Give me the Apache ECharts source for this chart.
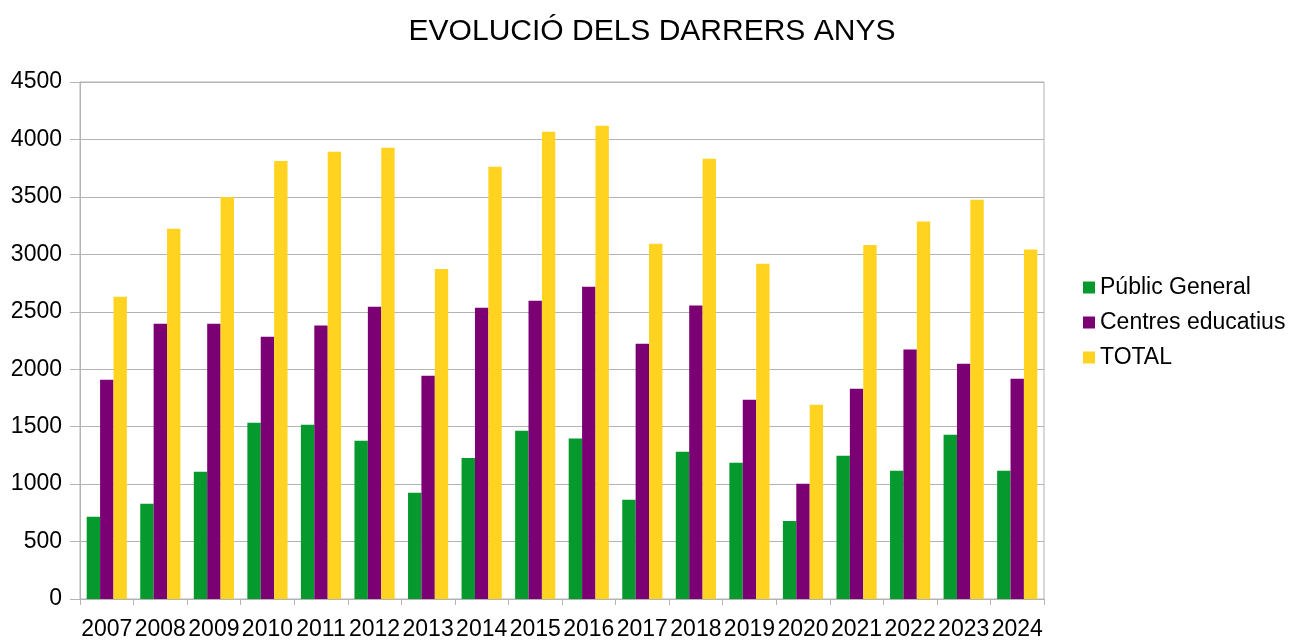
<!DOCTYPE html>
<html>
<head>
<meta charset="utf-8">
<script src="https://cdn.jsdelivr.net/npm/echarts@6/dist/echarts.min.js"></script>
<style>
  html, body { margin: 0; padding: 0; background: #fff; }
  #chart { width: 1304px; height: 644px; }
</style>
</head>
<body>
<div id="chart"></div>
<script>
const years = ['2007', '2008', '2009', '2010', '2011', '2012', '2013', '2014', '2015',
  '2016', '2017', '2018', '2019', '2020', '2021', '2022', '2023', '2024']
const publicGeneral = [715, 829, 1108, 1535, 1516, 1377, 924, 1228, 1465,
  1396, 864, 1282, 1187, 680, 1247, 1117, 1430, 1117]
const centresEducatius = [1908, 2396, 2396, 2282, 2380, 2544, 1943, 2535, 2595,
  2718, 2222, 2554, 1734, 1003, 1829, 2171, 2047, 1918]
const total = [2630, 3222, 3500, 3813, 3892, 3927, 2873, 3763, 4066,
  4120, 3092, 3832, 2918, 1690, 3082, 3285, 3475, 3041]

const font = 'Liberation Sans, Arial, sans-serif'
const gridColor = '#b3b3b3'

const chart = echarts.init(document.getElementById('chart'))
chart.setOption({
  animation: false,
  title: {
    text: 'EVOLUCIÓ DELS DARRERS ANYS',
    left: 'center', top: 12,
    textStyle: { fontFamily: font, fontSize: 30, fontWeight: 'normal', color: '#000' },
  },
  legend: {
    orient: 'vertical', left: 1078, top: 271,
    itemWidth: 12, itemHeight: 12, itemGap: 12,
    icon: 'rect',
    textStyle: { fontFamily: font, fontSize: 23, color: '#000' },
    data: ['Públic General', 'Centres educatius', 'TOTAL'],
  },
  grid: {
    left: 80, top: 82, width: 964, height: 517,
    show: true, borderColor: gridColor, borderWidth: 1,
  },
  xAxis: {
    type: 'category', data: years,
    axisLine: { lineStyle: { color: gridColor } },
    axisTick: { show: true, length: 6, lineStyle: { color: gridColor } },
    axisLabel: { fontFamily: font, fontSize: 23, color: '#000', margin: 19, interval: 0 },
  },
  yAxis: {
    type: 'value', min: 0, max: 4500, interval: 500,
    axisLine: { show: true, lineStyle: { color: gridColor } },
    axisTick: { show: true, length: 10, lineStyle: { color: gridColor } },
    axisLabel: { fontFamily: font, fontSize: 23, color: '#000', margin: 18,
      formatter: (v) => String(v) },
    splitLine: { lineStyle: { color: gridColor } },
  },
  series: [
    { name: 'Públic General', type: 'bar', data: publicGeneral,
      itemStyle: { color: '#069a2e' }, barGap: '0%', barCategoryGap: '25%' },
    { name: 'Centres educatius', type: 'bar', data: centresEducatius,
      itemStyle: { color: '#7b0073' }, barGap: '0%', barCategoryGap: '25%' },
    { name: 'TOTAL', type: 'bar', data: total,
      itemStyle: { color: '#ffd320' }, barGap: '0%', barCategoryGap: '25%' },
  ],
})
</script>
</body>
</html>
